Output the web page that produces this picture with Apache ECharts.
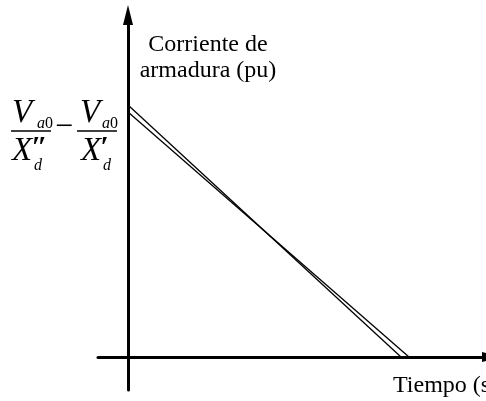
<!DOCTYPE html>
<html>
<head>
<meta charset="utf-8">
<script src="https://cdn.jsdelivr.net/npm/echarts@6/dist/echarts.min.js"></script>
<style>
  html, body { margin: 0; padding: 0; background: #fff; }
  #chart { width: 486px; height: 401px; }
</style>
</head>
<body>
<div id="chart"></div>
<script>
// Armature current decay: two straight-line envelopes (pu vs. time)
const seriesNames = ['Subtransitoria', 'Transitoria'];
const startCurrent = [2.52, 2.45];   // current at t = 0 (pu)
const endTime = [2.73, 2.81];        // time where each line reaches zero (s)

const SERIF = '"Liberation Serif", "Times New Roman", serif';

const chart = echarts.init(document.getElementById('chart'), null, { renderer: 'canvas' });

const series = seriesNames.map((name, i) => ({
  name,
  type: 'line',
  data: [[0, startCurrent[i]], [endTime[i], 0]],
  symbol: 'none',
  silent: true,
  lineStyle: { color: '#000', width: 1.3 },
  z: 1
}));

function txt(x, y, text, size, italic, align, weight) {
  return {
    type: 'text',
    silent: true,
    style: {
      x, y, text,
      font: (italic ? 'italic ' : '') + (weight ? weight + ' ' : '') + size + 'px ' + SERIF,
      fill: '#000',
      textAlign: align || 'left',
      textVerticalAlign: 'middle'
    }
  };
}
function bar(x1, x2, y) {
  return {
    type: 'line', silent: true,
    shape: { x1, y1: y, x2, y2: y },
    style: { stroke: '#000', lineWidth: 1.5 }
  };
}
function sub(x, y) {
  return {
    type: 'text', silent: true,
    style: {
      x, y, text: '{i|a}{n|0}',
      textVerticalAlign: 'middle',
      rich: {
        i: { font: 'italic 16px ' + SERIF, fill: '#000' },
        n: { font: '16px ' + SERIF, fill: '#000' }
      }
    }
  };
}

chart.setOption({
  animation: false,
  backgroundColor: '#fff',
  grid: { left: 98, right: 0, top: 15, bottom: 11, containLabel: false },
  xAxis: {
    type: 'value', min: -0.3, max: 3.58,
    axisLine: {
      onZero: true, lineStyle: { color: '#000', width: 3 },
      symbol: ['none', 'triangle'], symbolSize: [10, 20], symbolOffset: [0, 6]
    },
    axisTick: { show: false }, axisLabel: { show: false }, splitLine: { show: false }
  },
  yAxis: {
    type: 'value', min: -0.33, max: 3.42,
    axisLine: { onZero: true, lineStyle: { color: '#000', width: 3 }, symbol: ['none', 'triangle'], symbolSize: [10, 20] },
    axisTick: { show: false }, axisLabel: { show: false }, splitLine: { show: false }
  },
  series,
  graphic: [
    txt(208, 45, 'Corriente de', 24, false, 'center'),
    txt(208, 71, 'armadura (pu)', 24, false, 'center'),
    txt(393, 386, 'Tiempo (s)', 24, false, 'left'),
    // V_a0 / X''_d
    txt(12, 113, 'V', 33, true),
    sub(37, 124),
    bar(11, 51, 131),
    txt(12, 151, 'X', 33, true),
    txt(31, 148, '\u2033', 30, true, 'left', 'bold'),
    txt(34, 166, 'd', 16, true),
    // minus
    txt(64, 128, '\u2212', 32, false, 'center'),
    // V_a0 / X'_d
    txt(80, 113, 'V', 33, true),
    sub(102, 124),
    bar(77, 117, 131),
    txt(81, 151, 'X', 33, true),
    txt(100, 148, '\u2032', 30, true, 'left', 'bold'),
    txt(103, 166, 'd', 16, true)
  ]
});
</script>
</body>
</html>
